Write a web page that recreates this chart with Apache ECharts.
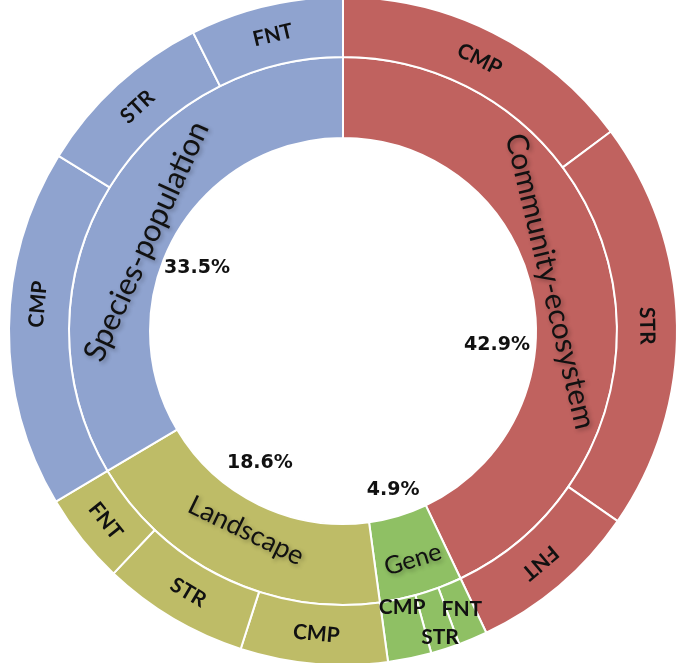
<!DOCTYPE html>
<html>
<head>
<meta charset="utf-8">
<script src="https://cdn.jsdelivr.net/npm/echarts@6.0.0/dist/echarts.min.js"></script>
<style>
html,body{margin:0;padding:0;background:#ffffff;}
#chart{width:685px;height:663px;}
</style>
</head>
<body>
<div id="chart"></div>
<script>
// ---------------- data ----------------
const groups = ['Community-ecosystem', 'Gene', 'Landscape', 'Species-population'];
const groupShares = [42.9, 4.9, 18.6, 33.5];
const subLabels = [
  ['CMP', 'STR', 'FNT'],
  ['FNT', 'STR', 'CMP'],
  ['CMP', 'STR', 'FNT'],
  ['CMP', 'STR', 'FNT']
];
const subShares = [
  [14.8, 19.8, 8.3],
  [1.4, 1.4, 2.1],
  [7.1, 7.1, 4.4],
  [17.3, 8.8, 7.4]
];

// ---------------- style / layout ----------------
const CENTER = [343, 331];
const R_HOLE = 193, R_MID = 274, R_OUT = 334;
const groupColors = ['#C0625F', '#8FC064', '#BEBC67', '#8FA3CF'];
const nameOrient = ['out', 'in', 'in', 'out'];
const outerOrient = ['out', 'flat', 'in', 'out'];
const nameAnchors = [[76.5, 213], [163, 239], [205.9, 222], [294.5, 216]];
const nameFont = [30, 25, 27, 31];
const pctAnchors = [[95.2, 154.6], [162.5, 166.7], [212.2, 156], [293.3, 159]];
const outerAnchorOverrides = {
  '1-0': [156.9, 303], '1-1': [162.4, 321], '1-2': [167.9, 282], '3-0': [275, 306]
};

function polar(theta, r) {
  const t = theta * Math.PI / 180;
  return [CENTER[0] + r * Math.sin(t), CENTER[1] - r * Math.cos(t)];
}
function rot(theta, mode) {
  let a = mode === 'out' ? -theta : (mode === 'in' ? 180 - theta : 0);
  while (a > 180) a -= 360;
  while (a <= -180) a += 360;
  return a;
}

const total = groupShares.reduce((a, b) => a + b, 0);
const outerItems = [];
let acc = 0;
subShares.forEach((arr, g) => arr.forEach((v, k) => {
  const mid = (acc + v / 2) / total * 360;
  acc += v;
  const anchor = outerAnchorOverrides[g + '-' + k] || [mid, (R_MID + R_OUT) / 2];
  outerItems.push({ name: subLabels[g][k], value: v, group: g, anchor: anchor });
}));

const common = {
  type: 'pie',
  center: CENTER,
  startAngle: 90,
  clockwise: true,
  avoidLabelOverlap: false,
  minShowLabelAngle: 0,
  labelLine: { show: false },
  emphasis: { disabled: true },
  animation: false
};

const chart = echarts.init(document.getElementById('chart'), null, { renderer: 'canvas' });
chart.setOption({
  backgroundColor: '#ffffff',
  series: [
    Object.assign({}, common, {
      name: 'level',
      radius: [R_HOLE, R_MID],
      itemStyle: { borderColor: '#ffffff', borderWidth: 2 },
      label: {
        show: true, position: 'inside', formatter: '{b}',
        fontFamily: 'Lato', fontWeight: 'normal', color: '#111111',
        textShadowColor: 'rgba(0,0,0,0.3)', textShadowBlur: 4,
        textShadowOffsetX: 2, textShadowOffsetY: 2
      },
      data: groups.map((n, i) => ({
        name: n, value: groupShares[i],
        itemStyle: { color: groupColors[i] },
        label: { fontSize: nameFont[i] }
      })),
      labelLayout: function (p) {
        const a = nameAnchors[p.dataIndex];
        const xy = polar(a[0], a[1]);
        return { x: xy[0], y: xy[1], rotate: rot(a[0], nameOrient[p.dataIndex]) };
      }
    }),
    Object.assign({}, common, {
      name: 'component',
      radius: [R_MID, R_OUT],
      itemStyle: { borderColor: '#ffffff', borderWidth: 2 },
      label: {
        show: true, position: 'inside', formatter: '{b}',
        fontFamily: 'Lato', fontWeight: 'bold', fontSize: 21, color: '#111111'
      },
      data: outerItems.map(o => ({
        name: o.name, value: o.value,
        itemStyle: { color: groupColors[o.group] }
      })),
      labelLayout: function (p) {
        const o = outerItems[p.dataIndex];
        const xy = polar(o.anchor[0], o.anchor[1]);
        return { x: xy[0], y: xy[1], rotate: rot(o.anchor[0], outerOrient[o.group]) };
      }
    }),
    Object.assign({}, common, {
      name: 'share',
      silent: true,
      radius: [140, 180],
      itemStyle: { color: 'rgba(0,0,0,0)' },
      label: {
        show: true, position: 'inside',
        formatter: p => p.value.toFixed(1) + '%',
        fontFamily: 'DejaVu Sans', fontWeight: 'bold', fontSize: 19, color: '#111111'
      },
      data: groups.map((n, i) => ({ name: n, value: groupShares[i] })),
      labelLayout: function (p) {
        const a = pctAnchors[p.dataIndex];
        const xy = polar(a[0], a[1]);
        return { x: xy[0], y: xy[1], rotate: 0 };
      }
    })
  ]
});
</script>
</body>
</html>
